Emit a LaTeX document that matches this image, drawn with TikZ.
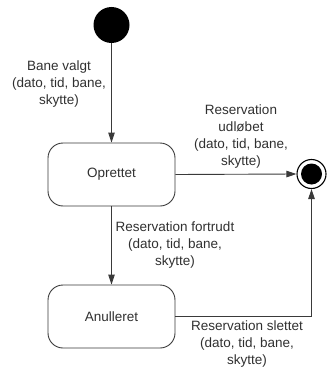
\documentclass[tikz,border=0pt]{standalone}
\usepackage{fontspec}
\setmainfont{Liberation Sans}
\usetikzlibrary{arrows.meta}
\definecolor{edge}{HTML}{3A3A3A}
\definecolor{ink}{HTML}{303030}
\begin{document}
\begin{tikzpicture}[x=1pt,y=-1pt,
  state/.style={draw=edge,line width=0.9pt,rounded corners=15pt,
    minimum width=127pt,minimum height=63pt,inner sep=0pt,
    font=\fontsize{13.5}{17}\selectfont,text=ink},
  lbl/.style={align=center,inner sep=0pt,
    font=\fontsize{13.5}{17}\selectfont,text=ink},
  flow/.style={draw=edge,line width=0.9pt,
    -{Triangle[length=10pt,width=6.5pt]}}]
  \useasboundingbox (0,0) rectangle (327,369);

  % initial and final pseudo-states
  \node[circle,fill=black,minimum size=36pt,inner sep=0pt] (start) at (111.5,25) {};
  \node[circle,draw=black,line width=1.1pt,minimum size=29pt,inner sep=0pt] (end) at (311.5,174) {};
  \node[circle,fill=black,minimum size=21pt,inner sep=0pt] (endcore) at (end.center) {};

  % states
  \node[state] (opr) at (111.5,174.5) {Oprettet};
  \node[state] (anu) at (111.5,316.5) {Anulleret};

  % transitions
  \draw[flow] (start) -- (opr.north);
  \draw[flow] (opr.east) -- (end.west);
  \draw[flow] (opr.south) -- (anu.north);
  \draw[flow] (anu.east) -| (end.south);

  % transition labels
  \node[lbl] (l1) at (59,84) {Bane valgt\\(dato, tid, bane,\\skytte)};
  \node[lbl] (l2) at (241,136.5) {Reservation\\udløbet\\(dato, tid, bane,\\skytte)};
  \node[lbl] (l3) at (175,245) {Reservation fortrudt\\(dato, tid, bane,\\skytte)};
  \node[lbl] (l4) at (247,344) {Reservation slettet\\(dato, tid, bane,\\skytte)};
\end{tikzpicture}
\end{document}
